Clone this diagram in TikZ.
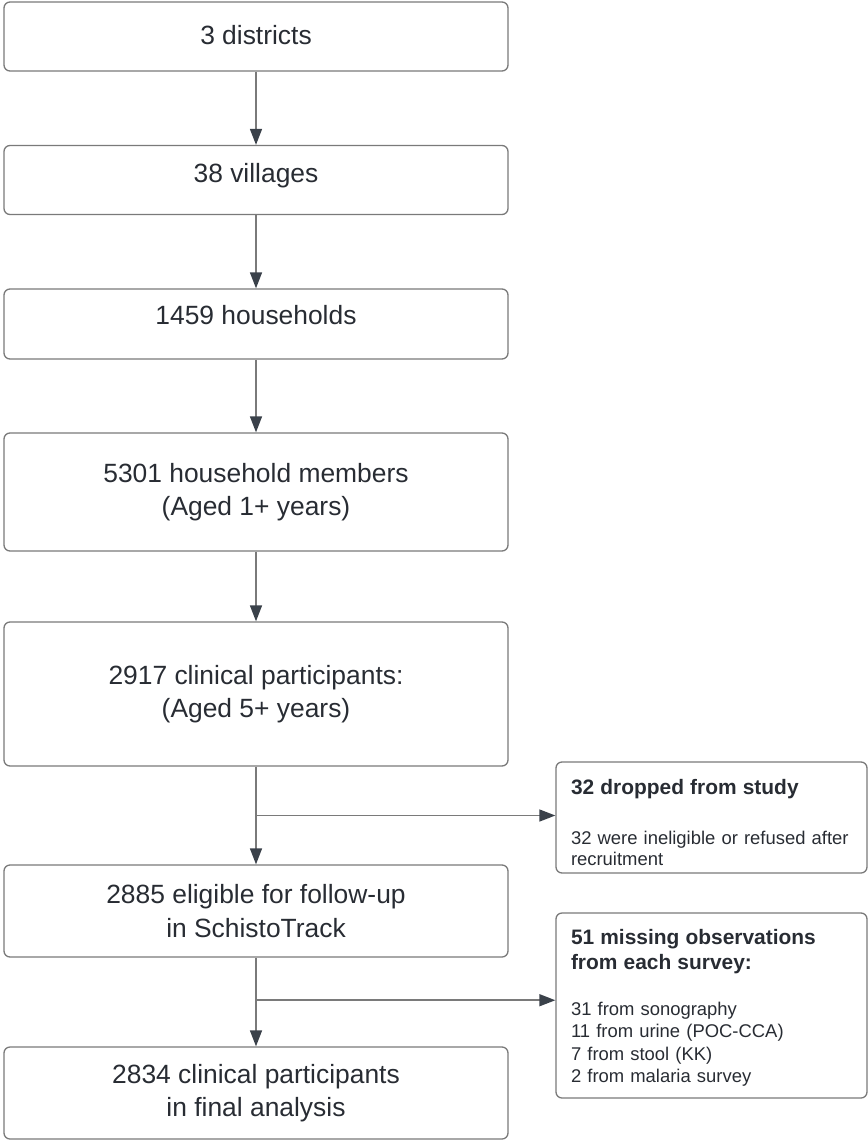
\documentclass[tikz,border=0pt]{standalone}
\usepackage{fontspec}
\setmainfont{Liberation Sans}
\usepackage{xcolor}
\usetikzlibrary{arrows.meta, calc}

\definecolor{boxline}{HTML}{7A7A7A}
\definecolor{headdark}{HTML}{3A414A}
\definecolor{inktext}{HTML}{282C33}

\begin{document}
\begin{tikzpicture}[x=1bp, y=-1bp,
        stagebox/.style={draw=boxline, line width=1.3bp, rounded corners=6bp, minimum width=504bp,
            inner sep=0pt, align=center, text=inktext, font=\fontsize{26.5}{33.5}\selectfont},
        exitbox/.style={draw=boxline, line width=1.3bp, rounded corners=6bp, text width=281bp,
            inner xsep=15bp, inner ysep=0pt, align=left, text=inktext, font=\fontsize{18.5}{22.5}\selectfont},
        flow/.style={line width=1.5bp, boxline, -{Triangle[width=12bp, length=16bp, color=headdark]}}]
        \useasboundingbox (0, 0) rectangle (868, 1141);

        \node[stagebox, minimum height=69bp, text depth=4bp] (districts) at (256, 36.5) {3 districts};
        \node[stagebox, minimum height=69bp, text depth=15bp] (villages) at (256, 180) {38 villages};
        \node[stagebox, minimum height=70bp, text depth=18bp] (households) at (256, 324) {1459 households};
        \node[stagebox, minimum height=118bp] (members) at (256, 492) {5301 household members\\(Aged 1+ years)};
        \node[stagebox, minimum height=144bp] (clinical) at (256, 694) {2917 clinical participants:\\(Aged 5+ years)};
        \node[stagebox, minimum height=92bp] (eligible) at (256, 911) {2885 eligible for follow-up\\in SchistoTrack};
        \node[stagebox, minimum height=92bp] (final) at (256, 1093) {2834 clinical participants\\in final analysis};

        \node[exitbox, minimum height=111bp] (dropped) at (711.5, 817.5) {%
            \rule{0pt}{25bp}\textbf{\fontsize{21}{26}\selectfont 32 dropped from study}\\[27bp]
            32 were ineligible or refused after\\[-1.5bp]
            recruitment};
        \node[exitbox, minimum height=185bp] (missing) at (711.5, 1005.5) {%
            \rule{0pt}{20bp}\textbf{\fontsize{21}{26}\selectfont 51 missing observations}\\[3bp]
            \textbf{\fontsize{21}{26}\selectfont from each survey:}\\[23bp]
            31 from sonography\\
            11 from urine (POC-CCA)\\
            7 from stool (KK)\\
            2 from malaria survey};

        \draw[flow] (districts.south) -- (villages.north);
        \draw[flow] (villages.south) -- (households.north);
        \draw[flow] (households.south) -- (members.north);
        \draw[flow] (members.south) -- (clinical.north);
        \draw[flow] (clinical.south) -- (eligible.north);
        \draw[flow] (eligible.south) -- (final.north);

        \coordinate (fork1) at ($(clinical.south)!0.5!(eligible.north)$);
        \coordinate (fork2) at ($(eligible.south)!0.48!(final.north)$);
        \draw[flow] (fork1) -- (fork1 -| dropped.west);
        \draw[flow] (fork2) -- (fork2 -| missing.west);
\end{tikzpicture}
\end{document}
